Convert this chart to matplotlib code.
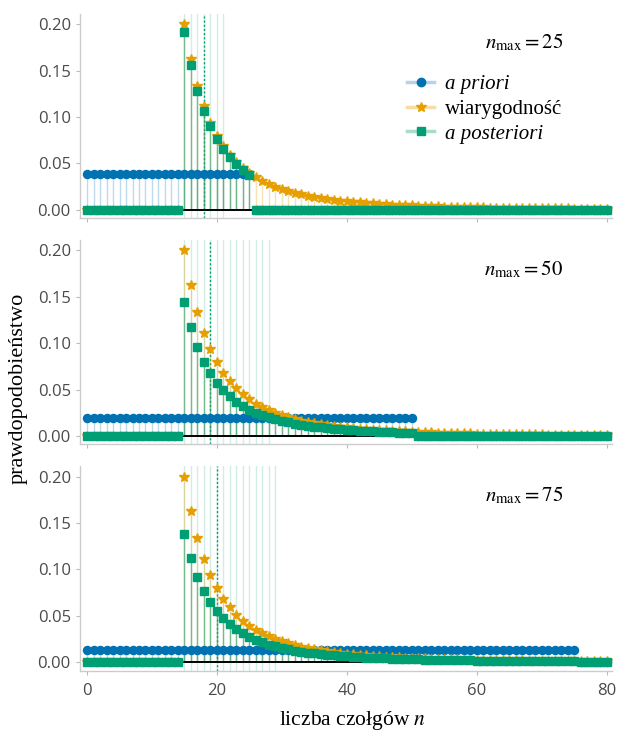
import matplotlib
matplotlib.use("Agg")
import matplotlib.pyplot as plt
from matplotlib.lines import Line2D
import numpy as np

# liczba czolgow n = 0..80
n = np.arange(0, 81)

# wiarygodnosc dla n = 15..80 (zero ponizej 15)
lik_tail = [0.2, 0.1625, 0.13382, 0.11152, 0.09391, 0.07982, 0.06842, 0.05909,
            0.05138, 0.04496, 0.03957, 0.03500, 0.03111, 0.02778, 0.02490, 0.02241,
            0.02024, 0.01835, 0.01668, 0.01521, 0.01390, 0.01275, 0.01171, 0.01079,
            0.00996, 0.00921, 0.00854, 0.00793, 0.00737, 0.00687, 0.00641, 0.00599,
            0.00561, 0.00526, 0.00494, 0.00464, 0.00437, 0.00412, 0.00388, 0.00367,
            0.00347, 0.00328, 0.00311, 0.00295, 0.00280, 0.00266, 0.00253, 0.00241,
            0.00229, 0.00218, 0.00208, 0.00199, 0.00190, 0.00182, 0.00174, 0.00166,
            0.00159, 0.00153, 0.00146, 0.00140, 0.00135, 0.00129, 0.00124, 0.00120,
            0.00115, 0.00111]

n_max = [25, 50, 75]
prior_level = [0.0385, 0.0196, 0.0132]

# a posteriori od n = 15 do n_max
post_25 = [0.1914, 0.1555, 0.1281, 0.1067, 0.0899, 0.0764, 0.0655, 0.0565,
           0.0492, 0.0430, 0.0379]
post_50 = [0.1440, 0.1170, 0.0964, 0.0803, 0.0676, 0.0575, 0.0493, 0.0426,
           0.0370, 0.0324, 0.0285, 0.0252, 0.0224, 0.0200, 0.0179, 0.0161,
           0.0146, 0.0132, 0.0120, 0.0110, 0.0100, 0.0092, 0.0084, 0.0078,
           0.0072, 0.0066, 0.0062, 0.0057, 0.0053, 0.0050, 0.0046, 0.0043,
           0.0040, 0.0038, 0.0036, 0.0033]
post_75 = [0.1379, 0.1120, 0.0922, 0.0769, 0.0647, 0.0550, 0.0472, 0.0407,
           0.0354, 0.0310, 0.0273, 0.0241, 0.0214, 0.0191, 0.0172, 0.0154,
           0.0140, 0.0126, 0.0115, 0.0105, 0.0096, 0.0088, 0.0081, 0.0074,
           0.0069, 0.0063, 0.0059, 0.0055, 0.0051, 0.0047, 0.0044, 0.0041,
           0.0039, 0.0036, 0.0034, 0.0032, 0.0030, 0.0028, 0.0027, 0.0025,
           0.0024, 0.0023, 0.0021, 0.0020, 0.0019, 0.0018, 0.0017, 0.0017,
           0.0016, 0.0015, 0.0014, 0.0014, 0.0013, 0.0013, 0.0012, 0.0011,
           0.0011, 0.0011, 0.0010, 0.0010, 0.0009]
posts = [post_25, post_50, post_75]

median = [18, 19, 20]
ci_low = [15, 15, 15]
ci_high = [21, 28, 29]

n_obs = 15

c_prior = "#0072B2"
c_lik = "#E69F00"
c_post = "#009E73"

plt.rcParams["mathtext.fontset"] = "stix"
serif = ["Liberation Serif", "DejaVu Serif"]

likelihood = np.zeros(len(n))
likelihood[n_obs:] = lik_tail

fig, axs = plt.subplots(3, 1, figsize=(6.19, 7.35), dpi=100, sharex=True)
fig.subplots_adjust(left=0.129, right=0.989, top=0.981, bottom=0.0876, hspace=0.108)

for i, ax in enumerate(axs):
    prior = np.zeros(len(n))
    prior[: n_max[i] + 1] = prior_level[i]
    post = np.zeros(len(n))
    post[n_obs: n_max[i] + 1] = posts[i]

    # przedzial wiarygodnosci i mediana
    for k in range(ci_low[i], ci_high[i] + 1):
        ax.axvline(k, color=c_post, alpha=0.18, lw=1.0, zorder=1)
    ax.axvline(median[i], color=c_post, ls=(0, (1.5, 1.5)), lw=1.0, zorder=2)

    ax.vlines(n, 0, prior, color=c_prior, alpha=0.25, lw=1.0, zorder=2)
    ax.vlines(n, 0, likelihood, color=c_lik, alpha=0.3, lw=1.0, zorder=2)
    ax.vlines(n, 0, post, color=c_post, alpha=0.45, lw=1.0, zorder=2)
    ax.hlines(0, n[0], n[-1], color="black", lw=1.4, zorder=3)

    ax.plot(n, prior, "o", color=c_prior, ms=5.8, zorder=4)
    ax.plot(n, likelihood, "*", color=c_lik, ms=7, zorder=5)
    ax.plot(n, post, "s", color=c_post, ms=5.2, zorder=6)

    ax.text(0.908, 0.86, r"$n_{\mathrm{max}} = %d$" % n_max[i], transform=ax.transAxes,
            ha="right", va="center", fontsize=15)

    ax.set_xlim(-1.1, 80.8)
    ax.set_ylim(-0.009, 0.211)
    ax.set_yticks([0.0, 0.05, 0.10, 0.15, 0.20])
    ax.set_yticklabels(["0.00", "0.05", "0.10", "0.15", "0.20"])
    for s in ["top", "right"]:
        ax.spines[s].set_visible(False)
    for s in ["left", "bottom"]:
        ax.spines[s].set_color("#cccccc")
        ax.spines[s].set_linewidth(1.0)
    ax.tick_params(colors="#bbbbbb", labelcolor="#4a4a4a", length=3, labelsize=12)
    for lab in ax.get_yticklabels() + ax.get_xticklabels():
        lab.set_family("Open Sans")

axs[2].set_xticks([0, 20, 40, 60, 80])
axs[2].tick_params(axis="x", pad=6)
for lab in axs[2].get_xticklabels():
    lab.set_family("Open Sans")
    lab.set_fontsize(12)

handles = [
    Line2D([], [], color="#b5d3ea", lw=2.5, marker="o", ms=6, mfc=c_prior, mec=c_prior),
    Line2D([], [], color="#f6dca6", lw=2.5, marker="*", ms=7, mfc=c_lik, mec=c_lik),
    Line2D([], [], color="#a9dccb", lw=2.5, marker="s", ms=5.5, mfc=c_post, mec=c_post),
]
leg = axs[0].legend(handles, ["a priori", "wiarygodność", "a posteriori"],
                    loc="upper left", bbox_to_anchor=(0.58, 0.795), frameon=False,
                    handlelength=1.3, handletextpad=0.5, labelspacing=0.25,
                    prop={"family": serif, "size": 15})
leg.get_texts()[0].set_style("italic")
leg.get_texts()[2].set_style("italic")

fig.text(0.03, 0.472, "prawdopodobieństwo", rotation=90, ha="center", va="center",
         family=serif, fontsize=16)
fig.text(0.569, 0.02, r"liczba czołgów $n$", ha="center", va="center",
         family=serif, fontsize=15.5)

fig.savefig("out.png", dpi=100)
